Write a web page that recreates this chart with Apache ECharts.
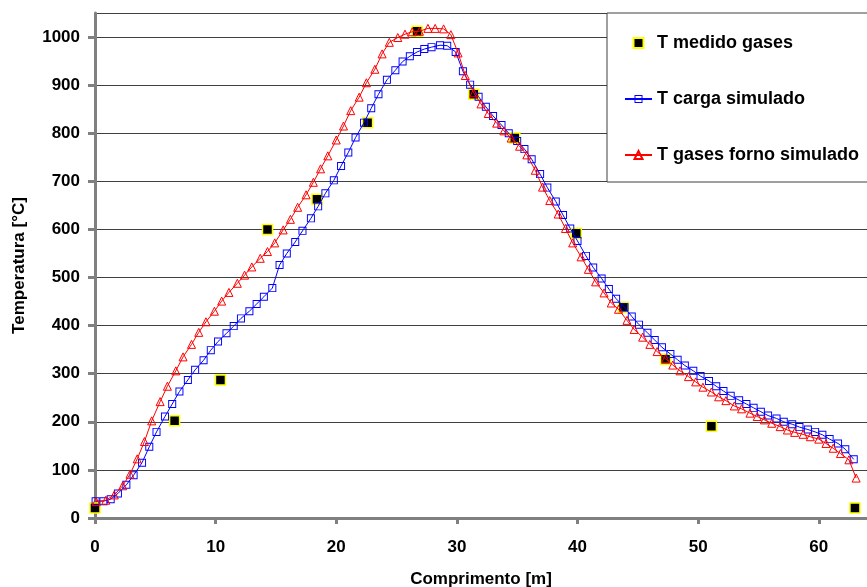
<!DOCTYPE html>
<html>
<head>
<meta charset="utf-8">
<script src="https://cdn.jsdelivr.net/npm/echarts@6/dist/echarts.min.js"></script>
<style>
  html, body { margin: 0; padding: 0; background: #fff; }
  #chart { width: 867px; height: 587px; }
</style>
</head>
<body>
<div id="chart"></div>
<script>
// === Données ===
const medidoX = [0, 6.6, 10.4, 14.3, 18.4, 22.6, 26.7, 31.4, 34.8, 39.9, 43.8, 47.3, 51.1, 63.0];
const medidoT = [21, 202, 287, 600, 663, 822, 1012, 881, 790, 592, 438, 330, 191, 21];

const cargaX = [0.05, 0.7, 1.3, 1.9, 2.6, 3.2, 3.9, 4.5, 5.1, 5.8, 6.4, 7.0, 7.7, 8.3, 9.0, 9.6, 10.2, 10.9, 11.5, 12.1,
  12.8, 13.4, 14.0, 14.7, 15.3, 15.9, 16.6, 17.2, 17.9, 18.5, 19.1, 19.8, 20.4, 21.0, 21.6, 22.3, 22.9, 23.5, 24.2, 24.9,
  25.5, 26.1, 26.7, 27.3, 27.9, 28.6, 29.2, 29.9, 30.5, 31.1, 31.8, 32.4, 33.0, 33.7, 34.3, 35.0, 35.6, 36.2, 36.9, 37.5,
  38.2, 38.8, 39.4, 40.0, 40.7, 41.3, 42.0, 42.6, 43.2, 43.9, 44.5, 45.1, 45.8, 46.4, 47.0, 47.7, 48.3, 48.9, 49.6, 50.2,
  50.9, 51.5, 52.1, 52.7, 53.4, 54.0, 54.6, 55.2, 55.8, 56.5, 57.1, 57.8, 58.4, 59.1, 59.7, 60.3, 60.9, 61.6, 62.2, 62.9];
const cargaT = [35, 35, 39, 51, 69, 89, 115, 148, 179, 211, 237, 263, 287, 308, 328, 349, 367, 384, 399, 415,
  430, 445, 460, 478, 526, 550, 574, 597, 623, 648, 675, 702, 732, 760, 791, 822, 852, 881, 911, 931,
  949, 960, 969, 975, 979, 983, 982, 969, 929, 901, 876, 855, 836, 817, 800, 784, 767, 746, 715, 687,
  658, 630, 602, 576, 545, 521, 498, 476, 456, 438, 419, 402, 385, 370, 355, 341, 329, 317, 306, 295,
  285, 274, 264, 254, 245, 237, 229, 221, 213, 207, 200, 195, 189, 184, 179, 173, 164, 155, 143, 122];

const gasesX = [0.1, 0.9, 1.6, 2.3, 2.9, 3.5, 4.1, 4.7, 5.4, 6.0, 6.7, 7.3, 8.0, 8.6, 9.2, 9.9, 10.5, 11.1, 11.8, 12.4,
  13.0, 13.7, 14.3, 14.9, 15.6, 16.2, 16.8, 17.5, 18.1, 18.7, 19.3, 20.0, 20.6, 21.2, 21.9, 22.5, 23.2, 23.8, 24.4, 25.1,
  25.7, 26.3, 26.9, 27.6, 28.2, 28.9, 29.5, 30.1, 30.7, 31.4, 32.0, 32.6, 33.3, 33.9, 34.5, 35.2, 35.8, 36.5, 37.1, 37.7,
  38.4, 39.0, 39.6, 40.3, 40.9, 41.5, 42.2, 42.8, 43.4, 44.1, 44.7, 45.4, 46.0, 46.6, 47.3, 47.9, 48.5, 49.2, 49.8, 50.4,
  51.1, 51.7, 52.3, 53.0, 53.6, 54.3, 54.9, 55.5, 56.1, 56.8, 57.4, 58.0, 58.7, 59.3, 60.0, 60.6, 61.2, 61.8, 62.5, 63.1];
const gasesT = [34, 37, 48, 67, 91, 123, 159, 202, 242, 274, 306, 335, 361, 386, 408, 430, 451, 469, 488, 505,
  522, 540, 554, 572, 599, 621, 646, 672, 698, 726, 753, 786, 815, 847, 875, 905, 933, 965, 989, 999,
  1006, 1011, 1012, 1018, 1018, 1017, 1005, 967, 920, 884, 861, 841, 821, 805, 790, 773, 755, 723, 688, 660,
  632, 602, 572, 543, 517, 491, 468, 447, 434, 411, 392, 376, 361, 346, 331, 318, 306, 294, 283, 272,
  262, 252, 244, 233, 227, 218, 211, 204, 197, 190, 183, 178, 174, 169, 164, 155, 145, 134, 121, 83];

const xMax = 64;
const yMax = 1050;

const zip = (xs, ys) => xs.map((x, i) => [x, ys[i]]);
const FONT = "Liberation Sans";
const labelStyle = { fontFamily: FONT, fontSize: 17, fontWeight: "bold", color: "#000" };
const nameStyle = { fontFamily: FONT, fontSize: 17, fontWeight: "bold", color: "#000" };

// Carré creux en anneau (rempli), le trait reste visible à l'intérieur
const hollowSquare = "path://M0,0H10V10H0Z M1.2,1.2V8.8H8.8V1.2Z";

const chart = echarts.init(document.getElementById("chart"));

const option = {
    backgroundColor: "#fff",
    animation: false,
    textStyle: { fontFamily: FONT },
    grid: { left: 95, right: 0, top: 13, bottom: 69, outerBoundsMode: "none", containLabel: false },
    legend: {
        orient: "vertical",
        left: 607,
        top: 13,
        backgroundColor: "#fff",
        borderColor: "#404040",
        borderWidth: 1,
        borderRadius: 0,
        padding: [21, 20, 18, 17],
        itemGap: 38,
        itemWidth: 27,
        itemHeight: 10,
        textStyle: { fontFamily: FONT, fontSize: 18, fontWeight: "bold", color: "#000" },
        data: [
            { name: "T medido gases", icon: "path://M0,0h10v10h-10z" },
            "T carga simulado",
            "T gases forno simulado"
        ]
    },
    xAxis: {
        type: "value",
        min: 0,
        max: xMax,
        interval: 10,
        name: "Comprimento [m]",
        nameLocation: "middle",
        nameGap: 53,
        nameTextStyle: nameStyle,
        axisLine: { show: true, lineStyle: { color: "#808080", width: 3 } },
        axisTick: { show: true, length: 6, lineStyle: { color: "#808080", width: 3 } },
        axisLabel: Object.assign({ showMaxLabel: false, margin: 21, formatter: v => String(v) }, labelStyle),
        splitLine: { show: false }
    },
    yAxis: {
        type: "value",
        min: 0,
        max: yMax,
        interval: 100,
        name: "Temperatura [°C]",
        nameLocation: "middle",
        nameGap: 67,
        nameTextStyle: nameStyle,
        axisLine: { show: true, lineStyle: { color: "#808080", width: 3 } },
        axisTick: { show: true, length: 7, lineStyle: { color: "#808080", width: 3 } },
        axisLabel: Object.assign({ showMaxLabel: false, margin: 15, formatter: v => String(v) }, labelStyle),
        splitLine: { show: true, lineStyle: { color: "#404040", width: 1 } }
    },
    series: [
        {
            name: "T medido gases",
            type: "scatter",
            symbol: "rect",
            symbolSize: 10,
            silent: true,
            emphasis: { disabled: true },
            itemStyle: { color: "#000", borderColor: "#ffff00", borderWidth: 1.5, opacity: 1 },
            z: 2,
            data: zip(medidoX, medidoT)
        },
        {
            name: "T carga simulado",
            type: "line",
            symbol: hollowSquare,
            symbolSize: 8,
            showAllSymbol: true,
            silent: true,
            emphasis: { disabled: true },
            lineStyle: { color: "#0000ff", width: 1 },
            itemStyle: { color: "#0000ff", borderWidth: 0, opacity: 1 },
            z: 3,
            data: zip(cargaX, cargaT)
        },
        {
            name: "T gases forno simulado",
            type: "line",
            symbol: "triangle",
            symbolSize: 8,
            showAllSymbol: true,
            silent: true,
            emphasis: { disabled: true },
            lineStyle: { color: "#ff0000", width: 1 },
            itemStyle: { color: "none", borderColor: "#ff0000", borderWidth: 1, opacity: 1 },
            z: 4,
            data: zip(gasesX, gasesT)
        }
    ]
};

chart.setOption(option);

window.addEventListener("resize", () => chart.resize());
</script>
</body>
</html>
